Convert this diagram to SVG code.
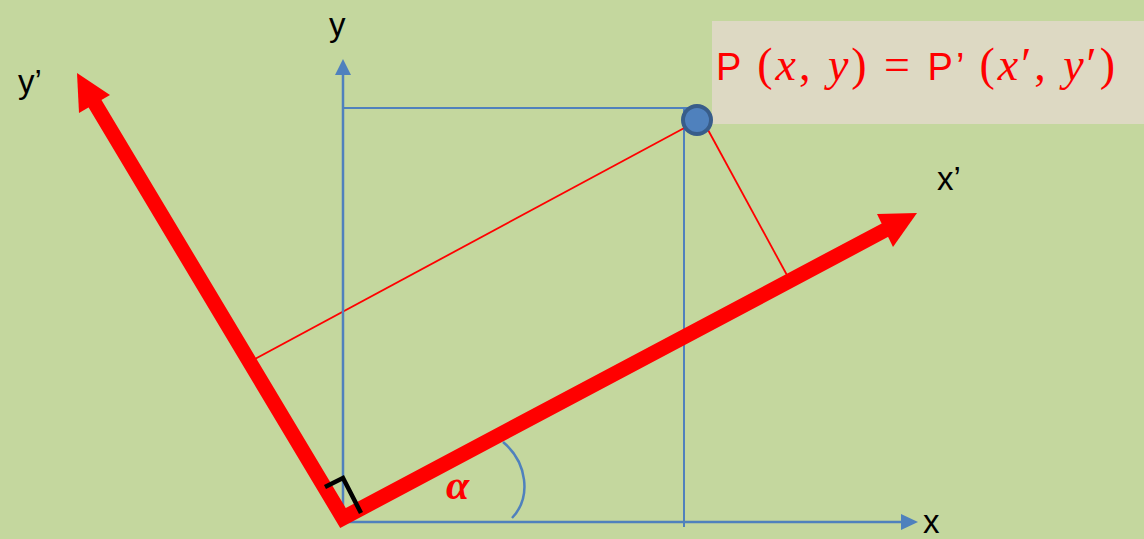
<svg xmlns="http://www.w3.org/2000/svg" width="1144" height="539" viewBox="0 0 1144 539">
<style>
.ax{stroke:#4F81BD;stroke-width:2.5;fill:none}
.proj{stroke:#4F81BD;stroke-width:2;fill:none}
.red{stroke:#FF0000;fill:none}
.lbl{font-family:"Liberation Sans",Arial,sans-serif;font-size:33px;fill:#000}
.eq{font-size:46px;fill:#FF0000}
.sans{font-family:"Liberation Sans",Arial,sans-serif;font-size:38px}
.math{font-family:"Liberation Serif","DejaVu Serif",serif}
</style>
<rect width="1144" height="539" fill="#C4D79E"/>
<g id="labelbox">
<rect x="712" y="21" width="432" height="103" fill="#DDD9C3"/>
<text x="716" y="80" class="eq" textLength="399" lengthAdjust="spacing"><tspan class="sans">P </tspan><tspan class="math">(<tspan font-style="italic">x</tspan>, <tspan font-style="italic">y</tspan>) = </tspan><tspan class="sans">P’ </tspan><tspan class="math">(<tspan font-style="italic">x</tspan>′, <tspan font-style="italic">y</tspan>′)</tspan></text>
</g>
<g id="connectors">
<line class="proj" x1="343" y1="108" x2="697" y2="108"/>
<line class="proj" x1="684" y1="108" x2="684" y2="527"/>
<line class="red" stroke-width="1.8" x1="688" y1="126" x2="253" y2="360"/>
<line class="red" stroke-width="1.8" x1="707" y1="128" x2="788" y2="277"/>
</g>
<g id="axis-y">
<line class="ax" x1="343" y1="74" x2="343" y2="522"/>
<polygon points="343,59 335,75 351,75" fill="#4F81BD"/>
<text x="329" y="36" class="lbl">y</text>
</g>
<g id="axis-x">
<line class="ax" x1="343" y1="522" x2="902" y2="522"/>
<polygon points="918,522 901,514 901,530" fill="#4F81BD"/>
<text x="923" y="533" class="lbl" font-size="31">x</text>
</g>
<g id="axis-xprime">
<path class="red" stroke-width="15" stroke-linejoin="miter" d="M 94,102 L 343,518 L 889,228"/>
<polygon points="917,213 877,214 893,247" fill="#FF0000"/>
<text x="937" y="190" class="lbl">x’</text>
</g>
<g id="axis-yprime">
<polygon points="77,73 110,95 79,113" fill="#FF0000"/>
<text x="18" y="93" class="lbl">y’</text>
</g>
<g id="right-angle">
<polyline points="325,487 343,478 361,513" fill="none" stroke="#000" stroke-width="4.5"/>
</g>
<g id="angle">
<path class="ax" stroke-width="2" d="M 503,442 C 527,462 532,497 512,518"/>
<text x="446" y="499" font-family="'Liberation Serif','DejaVu Serif',serif" font-style="italic" font-weight="bold" font-size="42" fill="#FF0000">α</text>
</g>
<g id="point-P">
<circle cx="697" cy="120" r="14" fill="#4F81BD" stroke="#385D8A" stroke-width="4"/>
</g>
</svg>
